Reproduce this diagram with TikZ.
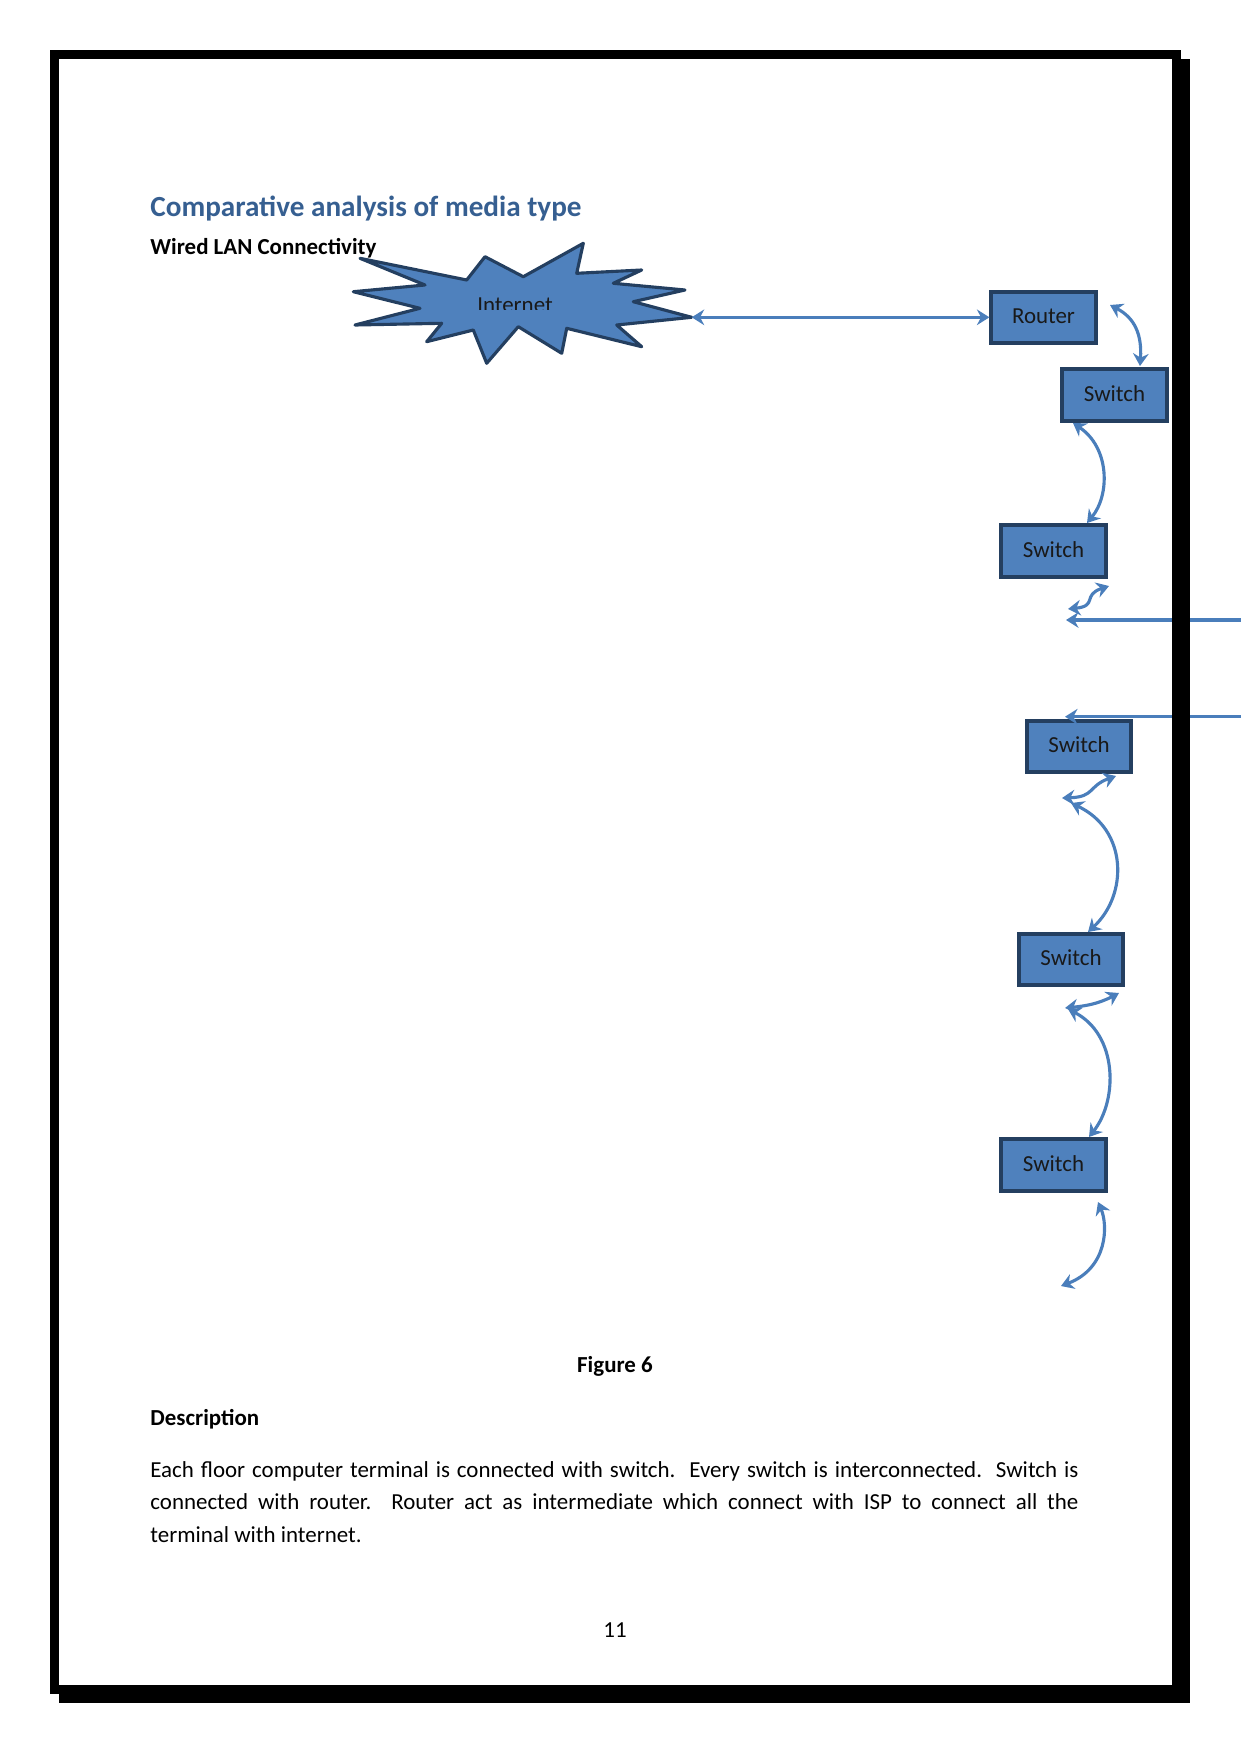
\documentclass[tikz,border=0pt]{standalone}
\usepackage{fontspec}
\setmainfont{Carlito}
\usetikzlibrary{arrows.meta}
\definecolor{boxfill}{HTML}{4F81BD}
\definecolor{boxline}{HTML}{243F60}
\definecolor{arrowc}{HTML}{4A7EBB}
\definecolor{headc}{HTML}{365F91}
\tikzset{
  devbox/.style={draw=boxline, fill=boxfill, line width=1.9pt, inner sep=0pt,
    minimum width=50pt, minimum height=24.5pt, font=\fontsize{11pt}{13pt}\selectfont, text=black!90},
  tip/.tip={Stealth[length=6pt,width=7.5pt,inset=2pt]},
  link/.style={draw=arrowc, line width=1.5pt, tip-tip},
  onelink/.style={draw=arrowc, line width=1.5pt, -tip},
  bodytext/.style={font=\fontsize{11pt}{15.8pt}\selectfont, inner sep=0pt},
  startxt/.style={font=\fontsize{11pt}{13pt}\selectfont, text=black!90, inner sep=0pt}
}
\begin{document}
\begin{tikzpicture}[x=0.4797pt,y=-0.4797pt]
\useasboundingbox (0,0) rectangle (1241,1754);

% headings
\node[anchor=base west, inner sep=0pt, font=\fontsize{14pt}{16pt}\selectfont\bfseries, text=headc] (title) at (150,216.7) {Comparative analysis of media type};
\node[anchor=base west, inner sep=0pt, font=\fontsize{11pt}{13pt}\selectfont\bfseries] (sub) at (150,254) {Wired LAN Connectivity};

% internet starburst
\draw[fill=boxfill, draw=boxline, line width=1.5pt, line join=round]
 (360,258.3) -- (466.7,280) -- (485,256.7) -- (523.3,276.7) -- (583.3,243.3) -- (576.7,273.3)
 -- (641.7,270) -- (613.3,283.3) -- (685,290) -- (633.3,301.7) -- (691.7,317.3) -- (616.7,325)
 -- (641.7,346.7) -- (566.7,328.3) -- (561.7,353.3) -- (518.3,326.7) -- (486.7,363.3) -- (473.3,330)
 -- (426.7,341.7) -- (441.7,323.3) -- (355,325) -- (420,308.3) -- (353.3,291.7) -- (425,285) -- cycle;
\begin{scope}
\clip (400,250) rectangle (640,309.5);
\node[startxt, anchor=base] (inettxt) at (515,312.5) {Internet};
\end{scope}
\coordinate (inettip) at (691.7,317.3);

% devices
\node[devbox] (router) at (1043.5,317.3) {\raisebox{1.5pt}{Router}};
\node[devbox] (sw1) at (1114.5,395) {\raisebox{1.5pt}{Switch}};
\node[devbox] (sw2) at (1053.5,551) {\raisebox{1.5pt}{Switch}};
\node[devbox] (sw3) at (1079,746.5) {\raisebox{1.5pt}{Switch}};
\node[devbox] (sw4) at (1071,959.5) {\raisebox{1.5pt}{Switch}};
\node[devbox] (sw5) at (1053.5,1165) {\raisebox{1.5pt}{Switch}};

% connector end points
\coordinate (a1s) at (1110,305);   \coordinate (a1e) at (1140,366);
\coordinate (a2s) at (1073,423);   \coordinate (a2e) at (1087,523);
\coordinate (a3s) at (1109,586);   \coordinate (a3e) at (1068,609);
\coordinate (l1s) at (1245,620);   \coordinate (l1e) at (1066,620);
\coordinate (l2s) at (1245,716.7); \coordinate (l2e) at (1065,716.7);
\coordinate (a4s) at (1116,776);   \coordinate (a4e) at (1062,798);
\coordinate (a5s) at (1071,803);   \coordinate (a5e) at (1088,932);
\coordinate (a6s) at (1119,993);   \coordinate (a6e) at (1065,1008);
\coordinate (a7s) at (1068,1009);  \coordinate (a7e) at (1089,1137);
\coordinate (a8s) at (1098,1202);  \coordinate (a8e) at (1061,1286);

% connectors
\draw[link] (inettip) -- (router.west);
\draw[link] (a1s) .. controls (1135,318) and (1142,335) .. (a1e);
\draw[link] (a2s) .. controls (1110,448) and (1110,495) .. (a2e);
\draw[link] (a3s) .. controls (1082,595) and (1098,606) .. (a3e);
\draw[onelink] (l1s) -- (l1e);
\draw[onelink] (l2s) -- (l2e);
\draw[link] (a4s) .. controls (1088,786) and (1095,797) .. (a4e);
\draw[link] (a5s) .. controls (1128,830) and (1128,895) .. (a5e);
\draw[link] (a6s) .. controls (1098,1004) and (1085,1006) .. (a6e);
\draw[link] (a7s) .. controls (1118,1035) and (1118,1100) .. (a7e);
\draw[link] (a8s) .. controls (1108,1225) and (1108,1268) .. (a8e);

% caption and description
\node[bodytext, anchor=base, font=\fontsize{11pt}{13pt}\selectfont\bfseries] (fig) at (615,1372) {Figure 6};
\node[bodytext, anchor=base west, font=\fontsize{11pt}{13pt}\selectfont\bfseries] (desc) at (150,1425) {Description};
\node[bodytext, anchor=base west] (para) at (150,1477) {\parbox[t]{445.2pt}{\fontsize{11pt}{15.6pt}\selectfont
Each floor computer terminal is connected with switch.\ \ Every switch is interconnected.\ \ Switch is\linebreak
connected with router.\ \ Router act as intermediate which connect with ISP to connect all the\linebreak
terminal with internet.}};
\node[bodytext, anchor=base] (pgno) at (615,1637) {11};

% page frame with shadow
\fill[black] (1181,59) rectangle (1190,1703);
\fill[black] (59,1694) rectangle (1190,1703);
\draw[black, line width=4.32pt] (54.5,54.5) rectangle (1176.5,1689.5);
\end{tikzpicture}
\end{document}
